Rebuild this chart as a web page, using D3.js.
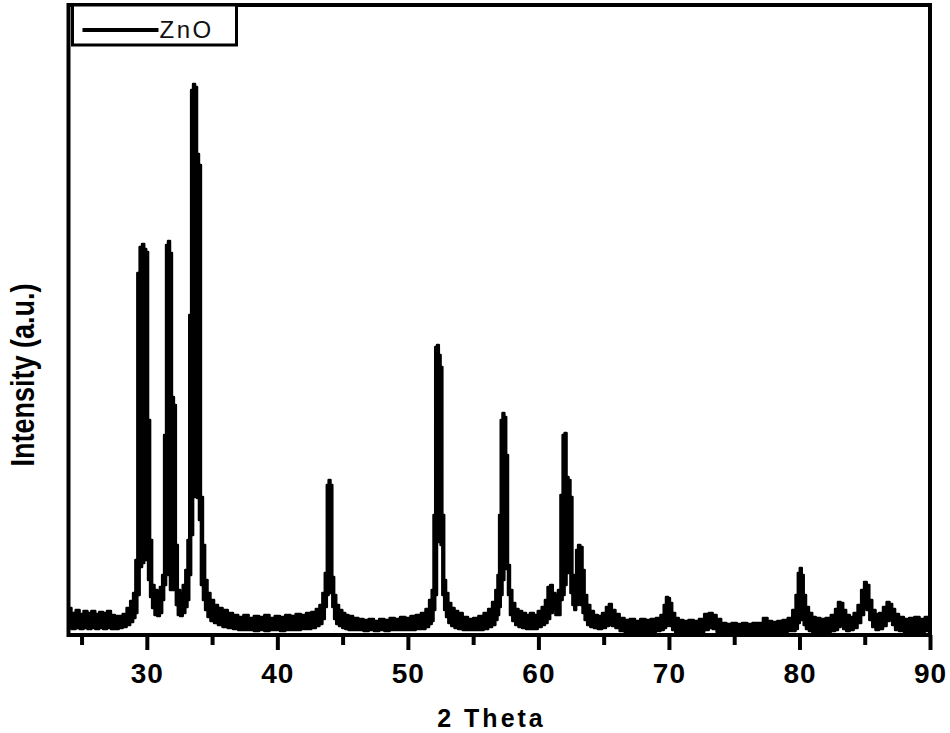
<!DOCTYPE html>
<html>
<head>
<meta charset="utf-8">
<script src="https://cdn.jsdelivr.net/npm/d3@7"></script>
<style>
  body { margin: 0; background: #fff; }
  text { font-family: "Liberation Sans", Arial, sans-serif; }
</style>
</head>
<body>
<div id="chart"></div>
<script>
// XRD pattern of ZnO.
// the trace is a dense noisy scan, so it is kept as an upper and a lower envelope
var twoTheta = [24.05,24.4,24.7,25.0,25.3,25.6,25.9,26.2,26.5,26.8,27.1,27.4,27.7,28.0,28.3,28.6,28.85,29.05,29.2,29.35,
  29.55,29.72,29.88,30.02,30.17,30.33,30.48,30.7,30.9,31.1,31.25,31.4,31.55,31.7,31.85,32.0,32.15,32.3,32.45,32.65,
  32.85,33.05,33.18,33.32,33.47,33.62,33.77,33.92,34.07,34.22,34.38,34.55,34.75,35.0,35.3,35.6,36.0,36.4,36.8,37.2,
  37.6,38.0,38.4,38.8,39.2,39.6,40.0,40.4,40.8,41.2,41.6,42.0,42.4,42.8,43.1,43.35,43.55,43.72,43.86,44.0,
  44.14,44.28,44.42,44.6,44.85,45.1,45.3,45.6,46.0,46.4,46.8,47.2,47.6,48.0,48.4,48.8,49.2,49.6,50.0,50.4,
  50.8,51.2,51.5,51.75,51.9,52.03,52.16,52.3,52.44,52.57,52.71,52.85,53.0,53.2,53.45,53.7,54.0,54.4,54.8,55.2,
  55.6,56.0,56.3,56.6,56.8,56.93,57.05,57.18,57.32,57.46,57.6,57.74,57.9,58.1,58.35,58.6,58.9,59.2,59.5,59.8,
  60.1,60.4,60.6,60.8,61.0,61.2,61.4,61.6,61.78,61.93,62.08,62.23,62.38,62.53,62.68,62.82,62.96,63.12,63.3,63.46,
  63.62,63.85,64.1,64.4,64.7,65.05,65.3,65.5,65.75,66.05,66.4,66.8,67.2,67.6,68.0,68.4,68.8,69.2,69.5,69.7,
  69.85,70.0,70.15,70.35,70.6,70.9,71.3,71.7,72.1,72.5,72.9,73.2,73.5,73.8,74.2,74.6,75.0,75.4,75.8,76.2,
  76.6,77.0,77.4,77.7,78.1,78.5,78.9,79.3,79.6,79.8,79.95,80.1,80.25,80.4,80.6,80.85,81.1,81.4,81.8,82.2,
  82.6,82.85,83.05,83.25,83.45,83.7,84.0,84.3,84.6,84.85,85.05,85.25,85.45,85.7,85.95,86.25,86.55,86.8,87.0,87.2,
  87.45,87.8,88.2,88.6,89.0,89.4,89.8,90.0];

var upperI = [27,22,25,21,24,22,24,21,23,22,24,20,19,19,21,27,34,42,75,362,
  388,391,386,383,215,95,50,45,44,48,60,200,390,394,382,238,230,90,45,42,
  50,65,95,320,545,551,548,481,470,138,90,55,42,35,30,27,25,22,20,18,
  20,17,19,18,20,17,19,18,20,19,21,20,22,23,26,30,42,62,150,155,
  150,58,40,30,25,22,20,19,17,16,15,16,14,16,15,17,16,18,17,19,
  20,22,26,35,45,120,288,290,280,268,120,55,42,32,27,24,22,18,16,17,
  19,22,26,33,45,60,120,215,222,218,180,70,45,32,26,24,22,20,22,20,
  24,28,35,48,50,42,40,45,140,200,202,158,155,138,60,50,85,90,88,65,
  40,30,24,20,19,22,28,31,25,21,17,15,16,14,16,15,16,17,20,30,
  38,37,32,22,17,15,14,15,14,16,21,22,20,16,12,11,12,11,12,11,
  12,12,17,14,13,14,15,17,25,40,62,67,60,40,28,22,18,17,16,17,
  20,26,33,32,25,20,18,22,30,45,53,50,35,25,21,22,28,33,31,26,
  21,18,16,17,18,16,18,17];

var lowerI = [7,6,7,6,7,6,7,6,7,6,7,6,6,7,8,10,13,17,22,40,
  68,72,95,75,55,38,27,20,19,22,35,50,60,70,45,45,58,30,20,19,
  22,28,35,60,100,140,138,137,115,50,35,25,18,14,12,10,8,7,6,5,
  5,5,4,5,4,5,5,4,5,5,5,6,6,7,9,11,16,28,40,45,
  42,28,16,11,9,7,6,5,5,5,4,5,4,5,4,5,5,5,5,5,
  6,6,8,11,14,25,40,95,93,90,40,25,18,12,9,7,6,5,5,5,
  5,6,8,10,15,20,28,40,55,66,67,40,20,14,10,8,7,6,6,6,
  8,10,12,16,22,25,20,20,35,40,50,62,62,42,30,25,30,35,30,22,
  15,10,8,7,6,7,9,10,9,7,4,3,3,3,3,3,3,4,5,7,
  9,10,9,5,3,3,3,3,3,3,5,7,6,3,2,2,2,2,2,2,
  2,2,3,3,3,3,3,4,4,6,12,17,15,10,6,4,3,3,3,3,
  4,5,8,10,6,4,5,7,12,20,27,25,15,8,5,6,9,14,15,10,
  5,4,3,3,3,3,4,4];

var majorTicks = [30, 40, 50, 60, 70, 80, 90];
var minorTicks = [25, 35, 45, 55, 65, 75, 85];
var seriesName = "ZnO";

var margin = {top: 5, right: 20, bottom: 98, left: 68.5},
    width = 930 - margin.left,
    height = 635 - margin.top;

var x = d3.scaleLinear().domain([24, 90]).range([0, width]);
var y = d3.scaleLinear().domain([0, 630]).range([height, 0]);

var svg = d3.select("#chart")
  .append("svg")
    .attr("width", 950)
    .attr("height", 733)
  .append("g")
    .attr("transform", "translate(" + margin.left + "," + margin.top + ")");

svg.append("clipPath").attr("id", "plotClip")
  .append("rect").attr("x", 0).attr("y", 0).attr("width", width).attr("height", height);

var rows = twoTheta.map(function(t, i) {
  return {t: t, hi: upperI[i], lo: lowerI[i]};
});

// blocky steps, like the scanned trace
var band = d3.area()
  .curve(d3.curveStep)
  .x(function(d) { return x(d.t); })
  .y0(function(d) { return y(d.lo); })
  .y1(function(d) { return y(d.hi); });

svg.append("path")
  .datum(rows)
  .attr("clip-path", "url(#plotClip)")
  .attr("d", band)
  .attr("fill", "#000")
  .attr("stroke", "#000")
  .attr("stroke-width", 2.5)
  .attr("stroke-linejoin", "round");

// frame
svg.append("rect")
  .attr("x", 0).attr("y", 0)
  .attr("width", width).attr("height", height)
  .attr("fill", "none")
  .attr("stroke", "#000")
  .attr("stroke-width", 4);

// bottom axis, major + minor ticks
var xAxis = svg.append("g")
  .attr("transform", "translate(0," + height + ")")
  .call(d3.axisBottom(x).tickValues(majorTicks).tickSize(15).tickPadding(13).tickFormat(d3.format("d")));
xAxis.select(".domain").remove();
xAxis.selectAll(".tick line").attr("stroke", "#000").attr("stroke-width", 4);
xAxis.selectAll(".tick text")
  .attr("fill", "#000")
  .style("font-size", "28px")
  .style("font-weight", "bold")
  .style("letter-spacing", "1px")
  .style("font-family", "'Liberation Sans', Arial, sans-serif");

var xMinor = svg.append("g")
  .attr("transform", "translate(0," + height + ")")
  .call(d3.axisBottom(x).tickValues(minorTicks).tickSize(10).tickFormat(""));
xMinor.select(".domain").remove();
xMinor.selectAll(".tick line").attr("stroke", "#000").attr("stroke-width", 4);

// axis titles
svg.append("text")
  .attr("x", 423)
  .attr("y", height + 92)
  .attr("text-anchor", "middle")
  .style("font-size", "25px")
  .style("font-weight", "bold")
  .style("letter-spacing", "3px")
  .text("2 Theta");

svg.append("text")
  .attr("transform", "translate(" + (-margin.left + 34) + "," + 370 + ") rotate(-90) scale(1,1.25)")
  .attr("text-anchor", "middle")
  .style("font-size", "27px")
  .style("font-weight", "bold")
  .text("Intensity (a.u.)");

// legend
var legend = svg.append("g").attr("transform", "translate(4,0)");
legend.append("rect")
  .attr("x", 0).attr("y", 0)
  .attr("width", 164).attr("height", 40)
  .attr("fill", "#fff")
  .attr("stroke", "#000")
  .attr("stroke-width", 3);
legend.append("line")
  .attr("x1", 10).attr("x2", 86)
  .attr("y1", 25).attr("y2", 25)
  .attr("stroke", "#000")
  .attr("stroke-width", 4);
legend.append("text")
  .attr("x", 87)
  .attr("y", 33)
  .style("font-size", "24px")
  .style("letter-spacing", "2.5px")
  .attr("fill", "#111")
  .text(seriesName);
</script>
</body>
</html>
